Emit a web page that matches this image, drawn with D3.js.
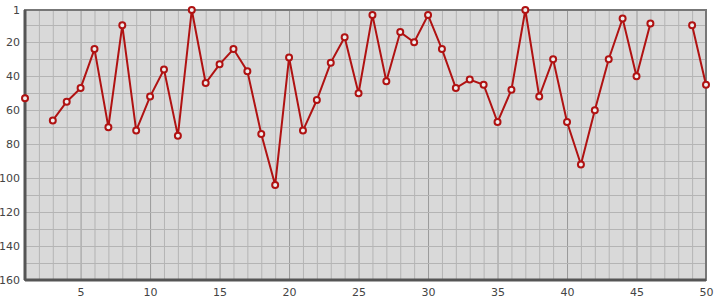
<!DOCTYPE html>
<html>
<head>
<meta charset="utf-8">
<script src="https://cdn.jsdelivr.net/npm/d3@7"></script>
<style>
  body { margin: 0; background: #fff; }
  svg text { font-family: "DejaVu Sans", sans-serif; font-size: 11px; fill: #444; }
</style>
</head>
<body>
<script>
const w = 715;
const h = 300;
const margin = {top: 10, right: 9, bottom: 20, left: 25};

// x positions 1..50, null = no value (gap in line)
const xValues = d3.range(1, 51);
const yValues = [53, null, 66, 55, 47, 24, 70, 10, 72, 52,
                 36, 75, 1, 44, 33, 24, 37, 74, 104, 29,
                 72, 54, 32, 17, 50, 4, 43, 14, 20, 4,
                 24, 47, 42, 45, 67, 48, 1, 52, 30, 67,
                 92, 60, 30, 6, 40, 9, null, null, 10, 45];
const xTicks = [5, 10, 15, 20, 25, 30, 35, 40, 45, 50];
const yTicks = [1, 20, 40, 60, 80, 100, 120, 140, 160];

const data = xValues.map((x, i) => ({x: x, y: yValues[i]}));

const svg = d3.select("body")
  .append("svg")
  .attr("width", w)
  .attr("height", h);

const xScale = d3.scaleLinear()
  .domain([1, 50])
  .range([margin.left, w - margin.right]);

const yScale = d3.scaleLinear()
  .domain([1, 160])
  .range([margin.top, h - margin.bottom]);

// plot background
svg.append("rect")
  .attr("x", xScale(1))
  .attr("y", yScale(1))
  .attr("width", xScale(50) - xScale(1))
  .attr("height", yScale(160) - yScale(1))
  .attr("fill", "#d9d9d9");

// vertical grid
svg.append("g")
  .selectAll("line")
  .data(d3.range(2, 50))
  .enter()
  .append("line")
  .attr("x1", d => xScale(d) + 0.5)
  .attr("x2", d => xScale(d) + 0.5)
  .attr("y1", yScale(1))
  .attr("y2", yScale(160))
  .attr("stroke", d => d % 5 == 0 ? "#999" : "#b4b4b4")
  .attr("stroke-width", 1);

// horizontal grid
svg.append("g")
  .selectAll("line")
  .data(d3.range(10, 160, 10))
  .enter()
  .append("line")
  .attr("x1", xScale(1))
  .attr("x2", xScale(50))
  .attr("y1", d => Math.round(yScale(d)) + 0.5)
  .attr("y2", d => Math.round(yScale(d)) + 0.5)
  .attr("stroke", "#b4b4b4")
  .attr("stroke-width", 1);

// frame
svg.append("rect")
  .attr("x", xScale(1))
  .attr("y", yScale(1))
  .attr("width", xScale(50) - xScale(1))
  .attr("height", yScale(160) - yScale(1))
  .attr("fill", "none")
  .attr("stroke", "#777")
  .attr("stroke-width", 2);

svg.append("line")
  .attr("x1", xScale(1)).attr("x2", xScale(1))
  .attr("y1", yScale(1)).attr("y2", yScale(160))
  .attr("stroke", "#555").attr("stroke-width", 3);
svg.append("line")
  .attr("x1", xScale(1)).attr("x2", xScale(50))
  .attr("y1", yScale(160)).attr("y2", yScale(160))
  .attr("stroke", "#555").attr("stroke-width", 3);

// axes
const xAxis = d3.axisBottom(xScale).tickValues(xTicks).tickSize(0).tickPadding(8);
const yAxis = d3.axisLeft(yScale).tickValues(yTicks).tickSize(0).tickPadding(5);

svg.append("g")
  .attr("transform", "translate(0," + (h - margin.bottom) + ")")
  .call(xAxis)
  .call(g => g.select(".domain").remove())
  .selectAll("text")
  .style("font-family", "DejaVu Sans, sans-serif")
  .style("font-size", "11px")
  .attr("fill", "#444");

svg.append("g")
  .attr("transform", "translate(" + margin.left + ",0)")
  .call(yAxis)
  .call(g => g.select(".domain").remove())
  .selectAll("text")
  .style("font-family", "DejaVu Sans, sans-serif")
  .style("font-size", "11px")
  .attr("fill", "#444");

// line
const line = d3.line()
  .defined(d => d.y != null)
  .x(d => xScale(d.x))
  .y(d => yScale(d.y));

svg.append("path")
  .datum(data)
  .attr("d", line)
  .attr("fill", "none")
  .attr("stroke", "#b01212")
  .attr("stroke-width", 2);

// markers
svg.selectAll("circle.pt")
  .data(data.filter(d => d.y != null))
  .enter()
  .append("circle")
  .attr("class", "pt")
  .attr("cx", d => xScale(d.x))
  .attr("cy", d => yScale(d.y))
  .attr("r", 3)
  .attr("fill", "#eee")
  .attr("stroke", "#b01212")
  .attr("stroke-width", 2);
</script>
</body>
</html>
